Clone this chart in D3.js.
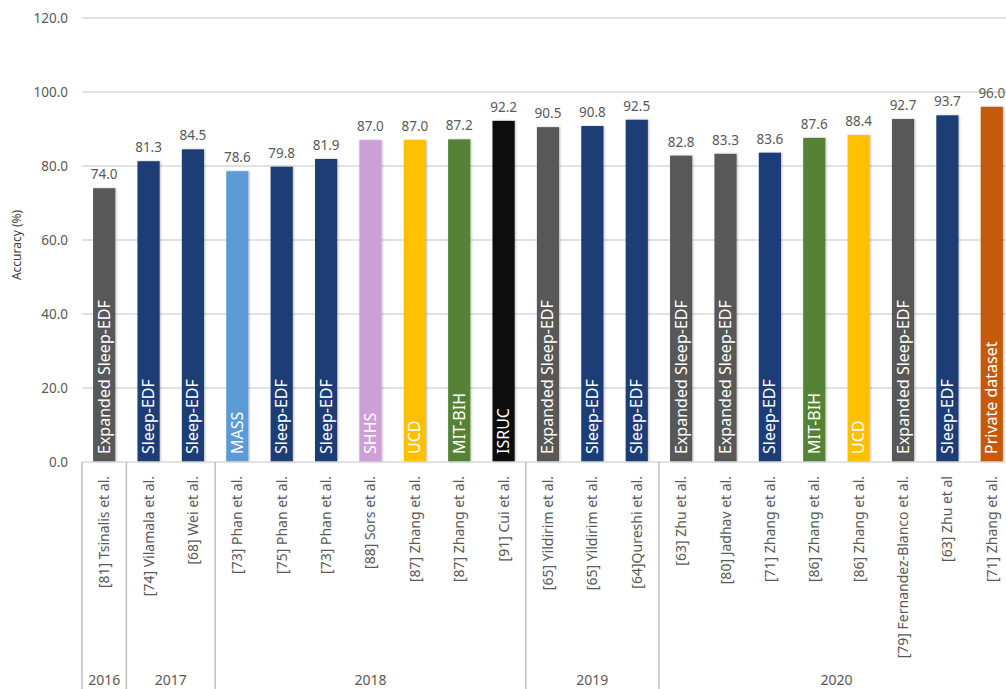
<!DOCTYPE html>
<html>
<head>
<meta charset="utf-8">
<script src="https://cdn.jsdelivr.net/npm/d3@7"></script>
<style>
  body { margin: 0; background: #fff; }
  svg { display: block; font-family: "Noto Sans", "Open Sans", sans-serif; }
</style>
</head>
<body>
<div id="chart"></div>
<script>
(function () {
    var width = 1006,
        height = 689;

    // chart data
    var studies = ["[81] Tsinalis et al.", "[74] Vilamala et al.", "[68] Wei et al.",
        "[73] Phan et al.", "[75] Phan et al.", "[73] Phan et al.", "[88] Sors et al.",
        "[87] Zhang et al.", "[87] Zhang et al.", "[91] Cui et al.",
        "[65] Yildirim et al.", "[65] Yildirim et al.", "[64]Qureshi et al.",
        "[63] Zhu et al.", "[80] Jadhav et al.", "[71] Zhang et al.", "[86] Zhang et al.",
        "[86] Zhang et al.", "[79] Fernandez-Blanco et al.", "[63] Zhu et al", "[71] Zhang et al."]
    var years = ["2016", "2017", "2017", "2018", "2018", "2018", "2018", "2018", "2018", "2018",
        "2019", "2019", "2019", "2020", "2020", "2020", "2020", "2020", "2020", "2020", "2020"]
    var datasets = ["Expanded Sleep-EDF", "Sleep-EDF", "Sleep-EDF", "MASS", "Sleep-EDF", "Sleep-EDF",
        "SHHS", "UCD", "MIT-BIH", "ISRUC", "Expanded Sleep-EDF", "Sleep-EDF", "Sleep-EDF",
        "Expanded Sleep-EDF", "Expanded Sleep-EDF", "Sleep-EDF", "MIT-BIH", "UCD",
        "Expanded Sleep-EDF", "Sleep-EDF", "Private dataset"]
    var accuracy = [74.0, 81.3, 84.5, 78.6, 79.8, 81.9, 87.0, 87.0, 87.2, 92.2,
        90.5, 90.8, 92.5, 82.8, 83.3, 83.6, 87.6, 88.4, 92.7, 93.7, 96.0]
    var yTicks = [0, 20, 40, 60, 80, 100, 120]

    var datasetColor = {
        "Expanded Sleep-EDF": "#595959",
        "Sleep-EDF": "#1f3c74",
        "MASS": "#5b9bd5",
        "SHHS": "#cc9fd6",
        "UCD": "#ffc000",
        "MIT-BIH": "#548235",
        "ISRUC": "#0d0d0d",
        "Private dataset": "#c55a11"
    }

    var data = studies.map(function (s, i) {
        return { study: s, year: years[i], dataset: datasets[i], value: accuracy[i], i: i }
    })

    var left = 82, baseY = 462, topY = 18
    var band = 44.38

    var svg = d3.select("#chart")
        .append("svg")
        .attr("width", width)
        .attr("height", height)

    var defs = svg.append("defs")
    var shadow = defs.append("filter").attr("id", "shadow")
        .attr("x", "-30%").attr("y", "-5%").attr("width", "160%").attr("height", "110%")
    shadow.append("feDropShadow").attr("dx", 1).attr("dy", 0).attr("stdDeviation", 1)
        .attr("flood-color", "#000").attr("flood-opacity", 0.25)

    var x = d3.scaleBand()
        .domain(d3.range(data.length))
        .range([left, left + band * data.length])
        .paddingInner(0.5)
        .paddingOuter(0.25)

    var y = d3.scaleLinear().domain([0, 120]).range([baseY, topY])

    // gridlines
    svg.append("g")
        .selectAll("line")
        .data(yTicks.filter(function (t) { return t > 0 }))
        .enter().append("line")
        .attr("x1", left).attr("x2", width)
        .attr("y1", function (d) { return y(d) }).attr("y2", function (d) { return y(d) })
        .attr("stroke", "#d9d9d9").attr("stroke-width", 1.5)

    // y axis labels
    var yAxis = svg.append("g")
        .attr("transform", "translate(" + left + ",0)")
        .call(d3.axisLeft(y).tickValues(yTicks).tickFormat(d3.format(".1f")).tickSize(0).tickPadding(14))
    yAxis.select(".domain").remove()
    yAxis.selectAll("text")
        .attr("fill", "#595959")
        .style("font-size", "13.5px")
        .style("font-family", "Noto Sans")

    svg.append("text")
        .attr("transform", "translate(21,245) rotate(-90)")
        .attr("text-anchor", "middle")
        .attr("fill", "#404040")
        .style("font-size", "12px")
        .text("Accuracy (%)")

    // bars
    svg.append("g")
        .selectAll("rect")
        .data(data)
        .enter().append("rect")
        .attr("x", function (d) { return x(d.i) })
        .attr("width", x.bandwidth())
        .attr("y", function (d) { return y(d.value) })
        .attr("height", function (d) { return baseY - y(d.value) })
        .attr("fill", function (d) { return datasetColor[d.dataset] })
        .attr("filter", "url(#shadow)")

    // value labels
    svg.append("g")
        .selectAll("text")
        .data(data)
        .enter().append("text")
        .attr("x", function (d) { return x(d.i) + x.bandwidth() / 2 })
        .attr("y", function (d) { return y(d.value) - 9 })
        .attr("text-anchor", "middle")
        .attr("fill", "#595959")
        .style("font-size", "13.5px")
        .text(function (d) { return d.value.toFixed(1) })

    // dataset names inside bars
    svg.append("g")
        .selectAll("text")
        .data(data)
        .enter().append("text")
        .attr("transform", function (d) {
            return "translate(" + (x(d.i) + x.bandwidth() / 2 + 5.5) + "," + (baseY - 8) + ") rotate(-90)"
        })
        .attr("fill", "#fff")
        .style("font-size", "16px")
        .text(function (d) { return d.dataset })

    // x axis line
    svg.append("line")
        .attr("x1", left).attr("x2", width)
        .attr("y1", baseY).attr("y2", baseY)
        .attr("stroke", "#d9d9d9").attr("stroke-width", 1.5)

    // study labels
    svg.append("g")
        .selectAll("text")
        .data(data)
        .enter().append("text")
        .attr("transform", function (d) {
            return "translate(" + (x(d.i) + x.bandwidth() / 2 + 5) + "," + (baseY + 14) + ") rotate(-90)"
        })
        .attr("text-anchor", "end")
        .attr("fill", "#595959")
        .style("font-size", "14px")
        .text(function (d) { return d.study })

    // year groups
    var groups = d3.groups(data, function (d) { return d.year })
    var bounds = [left]
    groups.forEach(function (g) {
        var last = g[1][g[1].length - 1].i
        bounds.push(left + band * (last + 1))
    })

    svg.append("g")
        .selectAll("line")
        .data(bounds)
        .enter().append("line")
        .attr("x1", function (d) { return d }).attr("x2", function (d) { return d })
        .attr("y1", baseY).attr("y2", height)
        .attr("stroke", "#bfbfbf").attr("stroke-width", 1.5)

    svg.append("g")
        .selectAll("text")
        .data(groups)
        .enter().append("text")
        .attr("x", function (g) {
            var first = g[1][0].i, last = g[1][g[1].length - 1].i
            return (x(first) + x(last) + x.bandwidth()) / 2
        })
        .attr("y", 685)
        .attr("text-anchor", "middle")
        .attr("fill", "#595959")
        .style("font-size", "14px")
        .text(function (g) { return g[0] })
})();
</script>
</body>
</html>
